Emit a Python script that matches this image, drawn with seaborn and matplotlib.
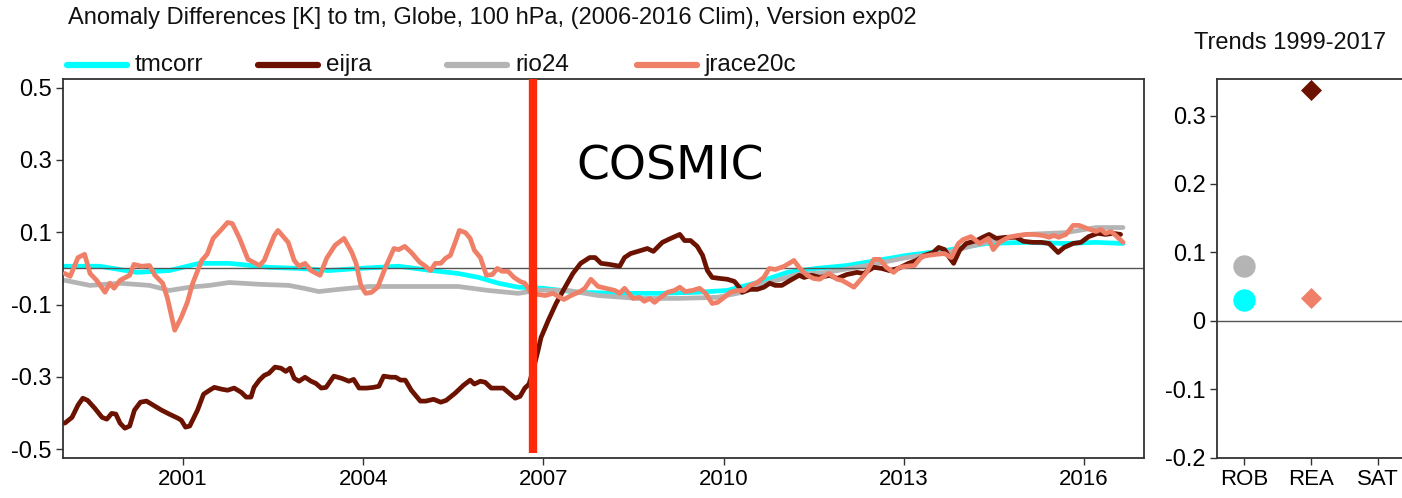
import numpy as np
import pandas as pd
import matplotlib
matplotlib.use("Agg")
import matplotlib.pyplot as plt
import seaborn as sns
from matplotlib.lines import Line2D

# ---------------- data ----------------
series_names = ["tmcorr", "eijra", "rio24", "jrace20c"]
series_colors = {"tmcorr": "#00ffff", "eijra": "#6b1300", "rio24": "#b4b4b4", "jrace20c": "#f07f68"}

tmcorr_t = [1999.03, 1999.61, 2000.23, 2000.77, 2001.27, 2001.77, 2002.43, 2002.93, 2003.43, 2003.93,
            2004.59, 2005.09, 2005.58, 2005.92, 2006.25, 2006.58, 2006.99, 2007.57, 2008.24, 2008.90,
            2009.56, 2010.06, 2010.56, 2011.06, 2011.55, 2012.05, 2012.38, 2013.05, 2013.71, 2014.37,
            2015.04, 2015.70, 2016.20, 2016.65]
tmcorr_v = [0.006, 0.006, -0.011, -0.006, 0.014, 0.014, 0.003, 0.000, -0.006, 0.000,
            0.006, -0.005, -0.014, -0.025, -0.041, -0.052, -0.055, -0.066, -0.069, -0.069,
            -0.066, -0.061, -0.039, -0.011, 0.000, 0.008, 0.017, 0.036, 0.050, 0.069,
            0.072, 0.069, 0.072, 0.069]

rio24_t = [1999.03, 1999.45, 1999.95, 2000.44, 2000.77, 2001.11, 2001.44, 2001.77, 2002.27, 2002.76,
           2003.01, 2003.26, 2003.59, 2004.09, 2004.59, 2005.09, 2005.58, 2006.08, 2006.58, 2006.91,
           2007.41, 2007.91, 2008.57, 2009.23, 2009.90, 2010.31, 2010.72, 2011.22, 2011.72, 2012.38,
           2013.05, 2013.71, 2014.37, 2015.04, 2015.70, 2016.20, 2016.65]
rio24_v = [-0.033, -0.047, -0.041, -0.047, -0.061, -0.052, -0.047, -0.039, -0.044, -0.047,
           -0.055, -0.064, -0.058, -0.050, -0.050, -0.050, -0.050, -0.061, -0.069, -0.060,
           -0.061, -0.075, -0.083, -0.083, -0.080, -0.066, -0.041, -0.017, -0.011, 0.008,
           0.030, 0.044, 0.072, 0.094, 0.099, 0.113, 0.113]

eijra_t = [1999.03, 1999.15, 1999.25, 1999.33, 1999.41, 1999.53, 1999.65, 1999.73, 1999.81, 1999.88,
           1999.95, 2000.03, 2000.11, 2000.19, 2000.29, 2000.39, 2000.53, 2000.64, 2000.77, 2000.91,
           2000.97, 2001.04, 2001.11, 2001.24, 2001.34, 2001.44, 2001.52, 2001.64, 2001.74, 2001.85,
           2001.97, 2002.05, 2002.13, 2002.18, 2002.27, 2002.35, 2002.43, 2002.53, 2002.63, 2002.71,
           2002.78, 2002.85, 2002.93, 2003.03, 2003.13, 2003.21, 2003.30, 2003.38, 2003.51, 2003.64,
           2003.76, 2003.84, 2003.93, 2004.06, 2004.17, 2004.26, 2004.34, 2004.46, 2004.54, 2004.62,
           2004.70, 2004.80, 2004.95, 2005.04, 2005.17, 2005.29, 2005.38, 2005.53, 2005.67, 2005.78,
           2005.85, 2005.95, 2006.03, 2006.13, 2006.21, 2006.33, 2006.45, 2006.53, 2006.61, 2006.69,
           2006.76, 2006.83, 2006.91, 2006.96, 2007.08, 2007.21, 2007.36, 2007.49, 2007.62, 2007.77,
           2007.86, 2007.96, 2008.10, 2008.27, 2008.35, 2008.45, 2008.57, 2008.73, 2008.83, 2008.98,
           2009.12, 2009.27, 2009.35, 2009.45, 2009.56, 2009.65, 2009.73, 2009.81, 2009.95, 2010.06,
           2010.18, 2010.26, 2010.31, 2010.44, 2010.56, 2010.67, 2010.77, 2010.86, 2010.97, 2011.11,
           2011.26, 2011.34, 2011.47, 2011.60, 2011.77, 2011.89, 2012.05, 2012.22, 2012.33, 2012.50,
           2012.63, 2012.76, 2012.91, 2013.08, 2013.21, 2013.34, 2013.49, 2013.58, 2013.68, 2013.76,
           2013.83, 2013.93, 2014.04, 2014.21, 2014.34, 2014.42, 2014.54, 2014.70, 2014.87, 2014.99,
           2015.15, 2015.29, 2015.42, 2015.57, 2015.67, 2015.82, 2015.95, 2016.08, 2016.23, 2016.36,
           2016.48, 2016.61]
eijra_v = [-0.428, -0.412, -0.378, -0.359, -0.365, -0.387, -0.412, -0.417, -0.401, -0.403,
           -0.428, -0.442, -0.436, -0.392, -0.370, -0.367, -0.381, -0.392, -0.403, -0.414,
           -0.420, -0.439, -0.436, -0.392, -0.348, -0.337, -0.329, -0.334, -0.337, -0.331,
           -0.343, -0.356, -0.356, -0.329, -0.309, -0.296, -0.290, -0.273, -0.276, -0.285,
           -0.276, -0.304, -0.312, -0.301, -0.312, -0.318, -0.331, -0.329, -0.298, -0.304,
           -0.312, -0.307, -0.331, -0.331, -0.329, -0.326, -0.298, -0.301, -0.301, -0.309,
           -0.309, -0.337, -0.367, -0.367, -0.362, -0.370, -0.365, -0.345, -0.323, -0.309,
           -0.320, -0.312, -0.315, -0.331, -0.331, -0.331, -0.348, -0.359, -0.354, -0.331,
           -0.320, -0.280, -0.227, -0.191, -0.144, -0.097, -0.052, -0.014, 0.014, 0.030,
           0.030, 0.014, 0.011, 0.006, 0.030, 0.041, 0.047, 0.055, 0.047, 0.072,
           0.083, 0.094, 0.077, 0.077, 0.061, 0.036, -0.006, -0.025, -0.028, -0.030,
           -0.036, -0.052, -0.066, -0.058, -0.058, -0.052, -0.041, -0.047, -0.047, -0.033,
           -0.019, -0.025, -0.019, -0.025, -0.019, -0.028, -0.017, -0.011, -0.014, 0.003,
           0.000, -0.006, 0.000, 0.014, 0.022, 0.036, 0.044, 0.058, 0.052, 0.030,
           0.014, 0.050, 0.069, 0.077, 0.088, 0.094, 0.083, 0.086, 0.086, 0.075,
           0.072, 0.072, 0.069, 0.044, 0.058, 0.069, 0.072, 0.088, 0.097, 0.094,
           0.097, 0.094]

jrace20c_t = [1999.03, 1999.12, 1999.25, 1999.36, 1999.45, 1999.56, 1999.70, 1999.78, 1999.85, 1999.95,
              2000.11, 2000.18, 2000.31, 2000.44, 2000.53, 2000.66, 2000.74, 2000.86, 2000.97, 2001.07,
              2001.16, 2001.31, 2001.40, 2001.50, 2001.64, 2001.74, 2001.82, 2001.94, 2002.08, 2002.15,
              2002.27, 2002.35, 2002.43, 2002.52, 2002.58, 2002.75, 2002.85, 2002.93, 2003.03, 2003.13,
              2003.28, 2003.39, 2003.53, 2003.68, 2003.81, 2003.88, 2003.96, 2004.04, 2004.14, 2004.24,
              2004.37, 2004.51, 2004.59, 2004.69, 2004.80, 2004.94, 2005.02, 2005.12, 2005.20, 2005.29,
              2005.37, 2005.45, 2005.53, 2005.60, 2005.70, 2005.78, 2005.85, 2005.95, 2006.05, 2006.15,
              2006.23, 2006.31, 2006.41, 2006.51, 2006.61, 2006.69, 2006.79, 2006.91, 2007.03, 2007.16,
              2007.34, 2007.46, 2007.61, 2007.69, 2007.79, 2007.91, 2008.04, 2008.19, 2008.27, 2008.35,
              2008.49, 2008.60, 2008.68, 2008.77, 2008.85, 2008.95, 2009.07, 2009.18, 2009.27, 2009.36,
              2009.48, 2009.60, 2009.70, 2009.81, 2009.90, 2010.01, 2010.11, 2010.23, 2010.34, 2010.44,
              2010.56, 2010.67, 2010.76, 2010.86, 2011.01, 2011.09, 2011.17, 2011.27, 2011.39, 2011.50,
              2011.60, 2011.75, 2011.89, 2011.97, 2012.17, 2012.27, 2012.38, 2012.50, 2012.60, 2012.71,
              2012.83, 2012.93, 2013.05, 2013.18, 2013.30, 2013.41, 2013.54, 2013.68, 2013.79, 2013.91,
              2013.99, 2014.12, 2014.26, 2014.41, 2014.49, 2014.59, 2014.74, 2014.90, 2015.04, 2015.17,
              2015.32, 2015.42, 2015.50, 2015.58, 2015.70, 2015.82, 2015.92, 2016.06, 2016.20, 2016.28,
              2016.36, 2016.45, 2016.53, 2016.65]
jrace20c_v = [-0.014, -0.022, 0.030, 0.039, -0.014, -0.033, -0.066, -0.041, -0.055, -0.033,
              -0.019, 0.011, 0.006, 0.008, -0.019, -0.041, -0.083, -0.171, -0.135, -0.094,
              -0.041, 0.022, 0.039, 0.083, 0.108, 0.127, 0.124, 0.083, 0.025, 0.019,
              0.008, 0.022, 0.055, 0.091, 0.105, 0.072, 0.022, 0.006, 0.014, -0.006,
              -0.019, 0.028, 0.064, 0.083, 0.044, 0.014, -0.047, -0.069, -0.066, -0.052,
              0.003, 0.055, 0.052, 0.061, 0.044, 0.017, 0.008, -0.006, 0.014, 0.014,
              0.028, 0.036, 0.072, 0.105, 0.099, 0.083, 0.050, 0.030, -0.019, -0.017,
              0.000, -0.008, -0.008, -0.025, -0.036, -0.041, -0.066, -0.072, -0.075, -0.069,
              -0.086, -0.075, -0.064, -0.055, -0.030, -0.050, -0.055, -0.061, -0.069, -0.055,
              -0.083, -0.080, -0.091, -0.083, -0.094, -0.080, -0.066, -0.061, -0.052, -0.064,
              -0.061, -0.055, -0.069, -0.097, -0.094, -0.080, -0.066, -0.061, -0.061, -0.047,
              -0.039, -0.025, 0.000, -0.003, 0.006, 0.014, 0.022, 0.000, -0.019, -0.028,
              -0.030, -0.014, -0.030, -0.033, -0.052, -0.033, -0.011, 0.025, 0.025, 0.003,
              -0.011, 0.003, 0.006, 0.008, 0.033, 0.036, 0.039, 0.041, 0.030, 0.069,
              0.080, 0.088, 0.069, 0.083, 0.052, 0.072, 0.086, 0.091, 0.094, 0.094,
              0.091, 0.086, 0.091, 0.086, 0.094, 0.119, 0.119, 0.110, 0.102, 0.108,
              0.097, 0.102, 0.091, 0.072]

cosmic_start = 2006.83
cosmic_line_bottom = -0.51

trend_categories = ["ROB", "REA", "SAT"]
trend_series = ["rio24", "tmcorr", "eijra", "jrace20c"]
trend_category = ["ROB", "ROB", "REA", "REA"]
trend_values = [0.080, 0.030, 0.337, 0.033]
trend_markers = ["o", "o", "D", "D"]

main_xticks = [2001, 2004, 2007, 2010, 2013, 2016]
main_yticks = [-0.5, -0.3, -0.1, 0.1, 0.3, 0.5]
main_yticklabels = ["-0.5", "-0.3", "-0.1", "0.1", "0.3", "0.5"]
trend_yticks = [-0.2, -0.1, 0.0, 0.1, 0.2, 0.3]
trend_yticklabels = ["-0.2", "-0.1", "0", "0.1", "0.2", "0.3"]

title_text = "Anomaly Differences [K] to tm, Globe, 100 hPa, (2006-2016 Clim), Version exp02"
trend_title = "Trends 1999-2017"

# ---------------- style ----------------
sns.set_theme(style="ticks")
plt.rcParams['font.family'] = ['Liberation Sans', 'DejaVu Sans']
plt.rcParams['axes.unicode_minus'] = False

W, H = 1402, 498
fig = plt.figure(figsize=(W / 100, H / 100), dpi=100)
ax = fig.add_axes([63 / W, 1 - 457.5 / H, (1144 - 63) / W, (457.5 - 79.3) / H])
ax2 = fig.add_axes([1216.7 / W, 1 - 457.5 / H, 190 / W, (457.5 - 79.3) / H])

frames = []
for name, t, v in [("tmcorr", tmcorr_t, tmcorr_v), ("rio24", rio24_t, rio24_v),
                   ("eijra", eijra_t, eijra_v), ("jrace20c", jrace20c_t, jrace20c_v)]:
    frames.append(pd.DataFrame({"time": t, "value": v, "series": name}))

ax.axhline(0, color="#555555", lw=1.0, zorder=2.5)
for i, df in enumerate(frames):
    name = df["series"].iloc[0]
    sns.lineplot(data=df, x="time", y="value", ax=ax, color=series_colors[name],
                 lw=3.4, estimator=None, sort=False, legend=False,
                 zorder=2 if name == "tmcorr" else 2 + i * 0.3)
ax.vlines(cosmic_start, cosmic_line_bottom, 0.53, color="#ff2a0a", lw=6.0, zorder=5)
ax.text(2007.55, 0.28, "COSMIC", fontsize=34, family="DejaVu Sans", color="black",
        ha="left", va="center")

ax.set_xlim(1999.0, 2017.0)
ax.set_ylim(-0.523, 0.523)
ax.set_xticks(main_xticks)
ax.set_xticklabels([str(x) for x in main_xticks])
ax.set_yticks(main_yticks)
ax.set_yticklabels(main_yticklabels)
ax.set_xlabel("")
ax.set_ylabel("")

# trends panel
tdf = pd.DataFrame({"series": trend_series, "cat": trend_category, "value": trend_values,
                    "marker": trend_markers})
tdf["pos"] = [trend_categories.index(c) for c in tdf["cat"]]
ax2.axhline(0, color="#555555", lw=1.0, zorder=1)
for _, row in tdf.iterrows():
    sns.scatterplot(x=[row["pos"]], y=[row["value"]], ax=ax2, color=series_colors[row["series"]],
                    marker=row["marker"], s=260 if row["marker"] == "o" else 115,
                    linewidth=0, legend=False, zorder=3)
ax2.set_xlim(-0.407, 2.43)
ax2.set_ylim(-0.2, 0.353)
ax2.set_xticks(range(len(trend_categories)))
ax2.set_xticklabels(trend_categories)
ax2.set_yticks(trend_yticks)
ax2.set_yticklabels(trend_yticklabels)
ax2.set_xlabel("")
ax2.set_ylabel("")

for a in (ax, ax2):
    for sp in a.spines.values():
        sp.set_visible(True)
        sp.set_color("#333333")
        sp.set_linewidth(1.3)
    a.tick_params(axis="both", direction="out", length=5, width=1.0, color="#333333",
                  labelcolor="black", pad=3)
    a.tick_params(axis="x", labelsize=16)
    a.tick_params(axis="y", labelsize=17)

# title and legend
fig.text(68 / W, 1 - 18 / H, title_text, fontsize=17, ha="left", va="center", color="#111111")
fig.text(1290 / W, 1 - 43 / H, trend_title, fontsize=17, ha="center", va="center", color="#111111")

leg_x = [67, 258, 447, 637]
leg_y = 1 - 65 / H
for name, x0 in zip(series_names, leg_x):
    fig.add_artist(Line2D([x0 / W, (x0 + 60) / W], [leg_y, leg_y], color=series_colors[name],
                          lw=4.5, transform=fig.transFigure))
    fig.text((x0 + 68) / W, leg_y, name, fontsize=17.5, ha="left", va="center", color="#111111")

fig.savefig("out.png", dpi=100)
